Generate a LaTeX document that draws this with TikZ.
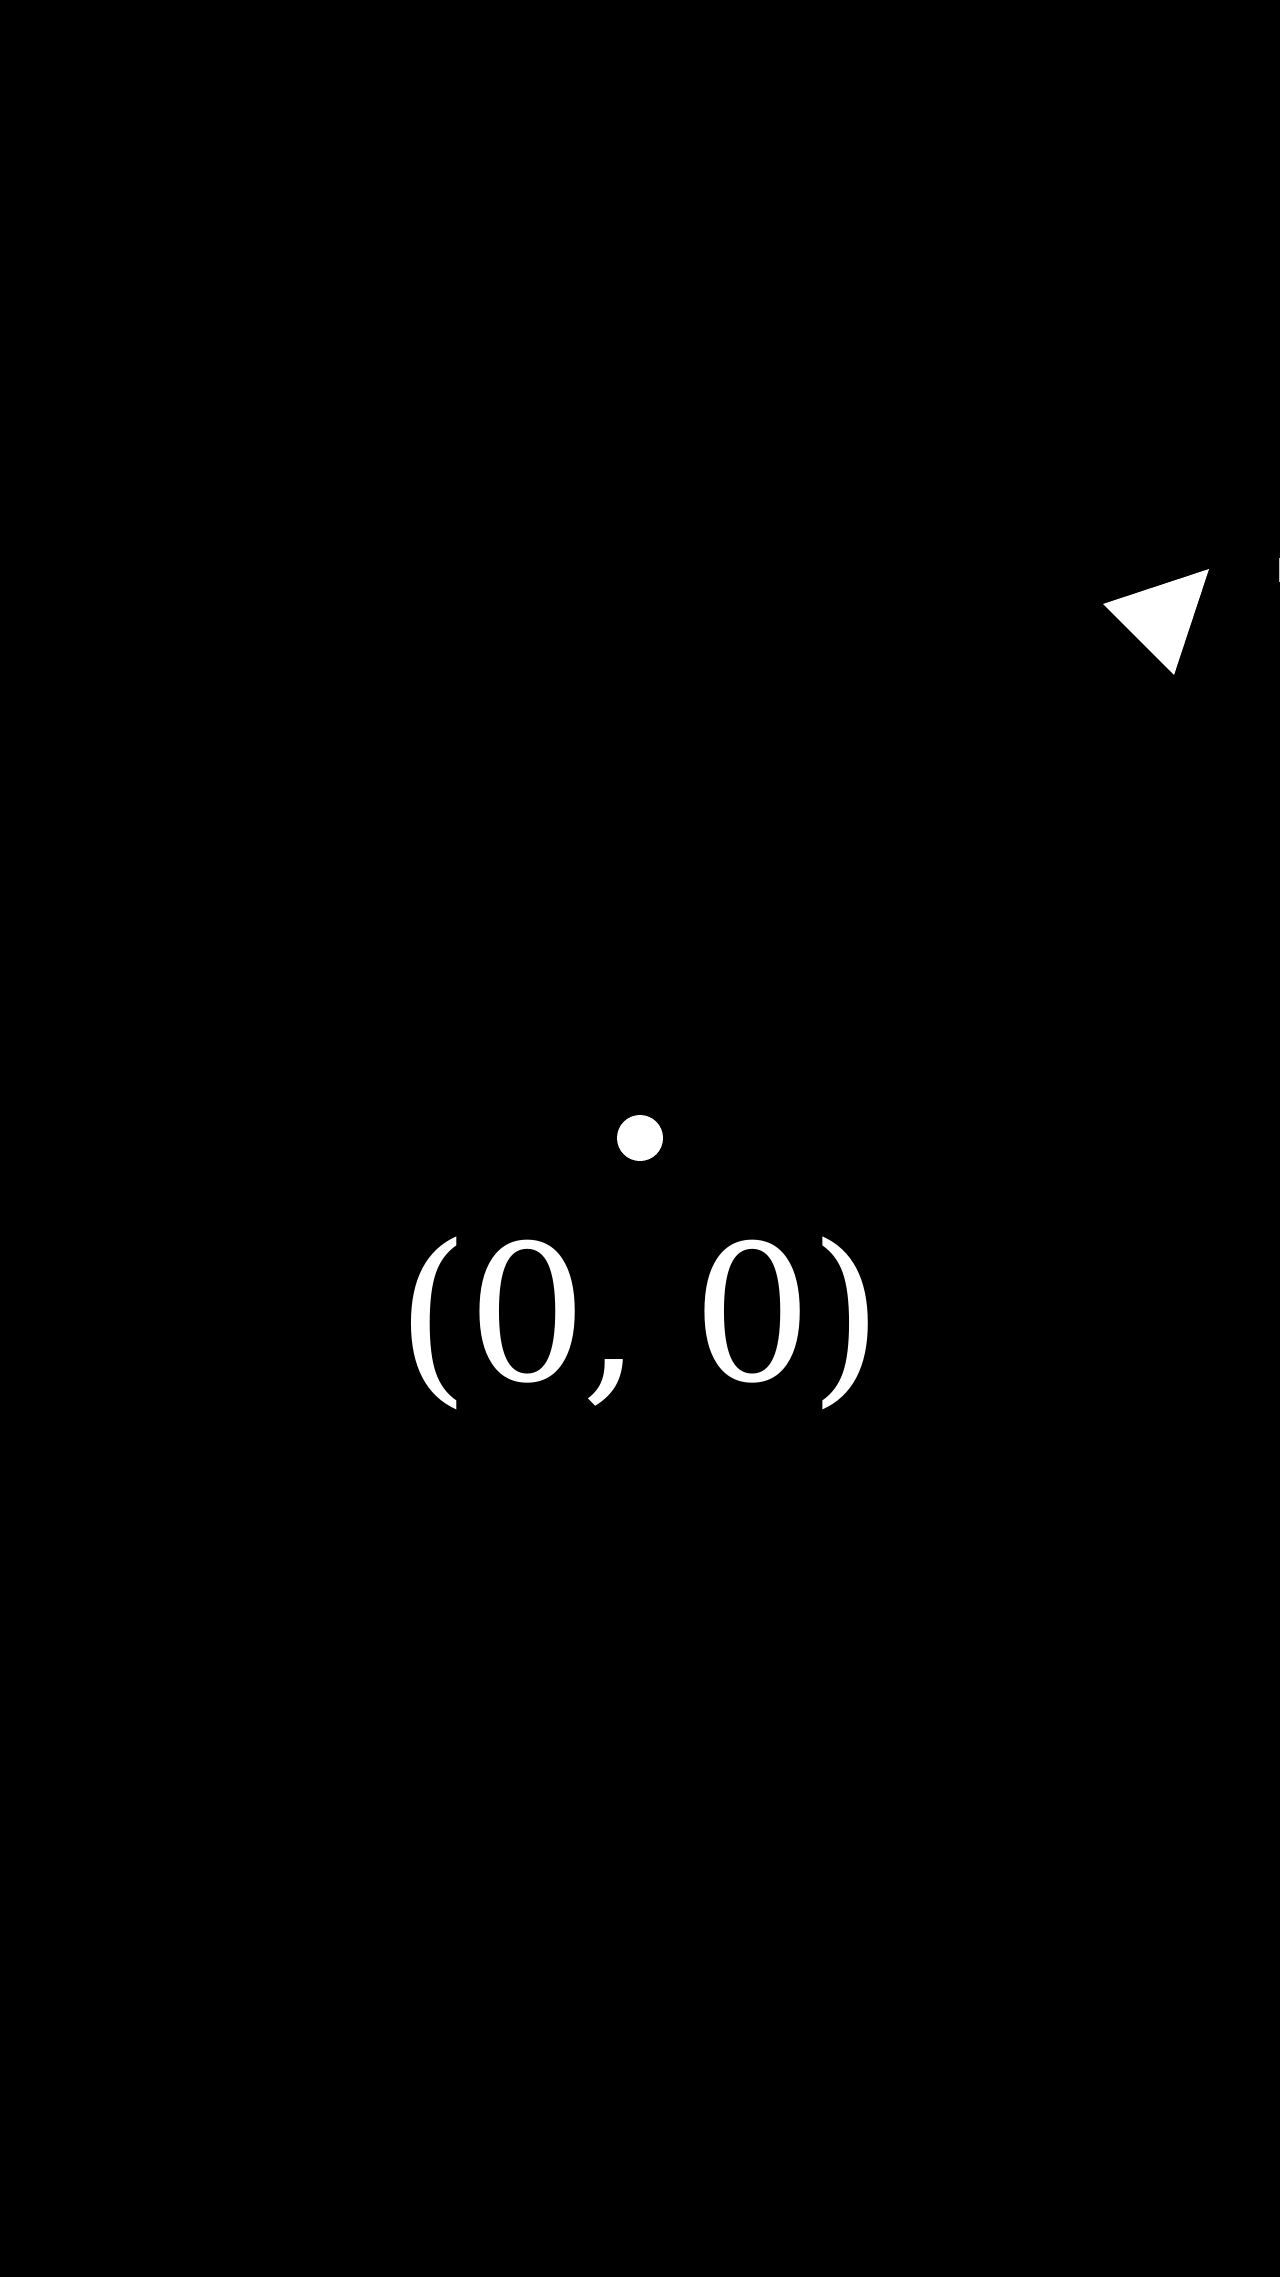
\documentclass[tikz,border=0pt]{standalone}
\usepackage{fontspec}
\setmainfont{DejaVu Serif}
\begin{document}
\begin{tikzpicture}[x=0.05cm,y=-0.05cm,
  bg/.style={fill=black,draw=none},
  shapefill/.style={fill=white,draw=none},
  label/.style={text=white,inner sep=0pt,font=\fontsize{269}{300}\selectfont}]
\fill[bg] (0,0) rectangle (1280,2277);
\useasboundingbox (0,0) rectangle (1280,2277);
% triangle
\fill[shapefill] (1209,569) -- (1103,604) -- (1174,675) -- cycle;
% faint sliver at right edge
\fill[gray!50] (1278.5,558) rectangle (1280,582);
% origin dot
\node[circle,shapefill,minimum size=46*0.05cm,inner sep=0pt] (origin) at (640,1138) {};
% label
\node[label,anchor=base] (coords) at (640,1380) {(\kern-4.3pt 0\kern-8.5pt,\kern-12.8pt\ 0\kern-5.7pt)};
\end{tikzpicture}
\end{document}
